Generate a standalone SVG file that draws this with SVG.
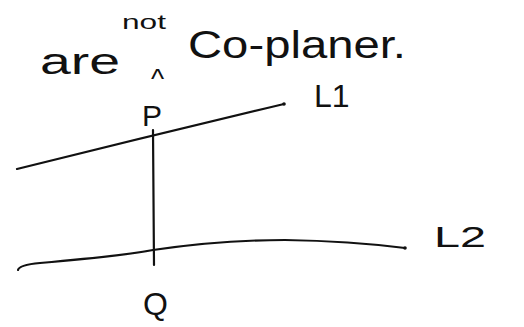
<svg xmlns="http://www.w3.org/2000/svg" width="524" height="327" viewBox="0 0 524 327">
<style>
.ln{fill:none;stroke:#111;stroke-width:2.2;stroke-linecap:round;stroke-linejoin:round}
.t{font-family:"Liberation Sans","DejaVu Sans",sans-serif;fill:#111}
</style>
<rect width="524" height="327" fill="#fff"/>
<g id="heading">
<text class="t" x="40" y="74" font-size="36" textLength="80" lengthAdjust="spacingAndGlyphs">are</text>
<text class="t" x="122" y="29" font-size="20" textLength="44" lengthAdjust="spacingAndGlyphs">not</text>
<text class="t" x="151" y="88" font-size="28">^</text>
<text class="t" x="188" y="58" font-size="38" textLength="218" lengthAdjust="spacingAndGlyphs">Co-planer.</text>
</g>
<g id="connectors">
<path id="line-L1" class="ln" d="M17 169 Q150 136 284 104"/>
<path id="line-L2" class="ln" d="M18 270 Q19 265 40 263 Q120 256 153 250 Q220 240 285 240 Q350 241 405 248"/>
<path id="line-PQ" class="ln" d="M153 130 L154 265"/>
<circle cx="284" cy="104" r="1.8" fill="#111"/>
<circle cx="405" cy="248" r="1.8" fill="#111"/>
</g>
<g id="node-P">
<text class="t" x="142" y="126" font-size="30">P</text>
</g>
<g id="node-Q">
<text class="t" x="143" y="315" font-size="32">Q</text>
</g>
<g id="label-L1">
<text class="t" x="314" y="107" font-size="32">L1</text>
</g>
<g id="label-L2">
<text class="t" x="434" y="247" font-size="30" textLength="52" lengthAdjust="spacingAndGlyphs">L2</text>
</g>
</svg>
